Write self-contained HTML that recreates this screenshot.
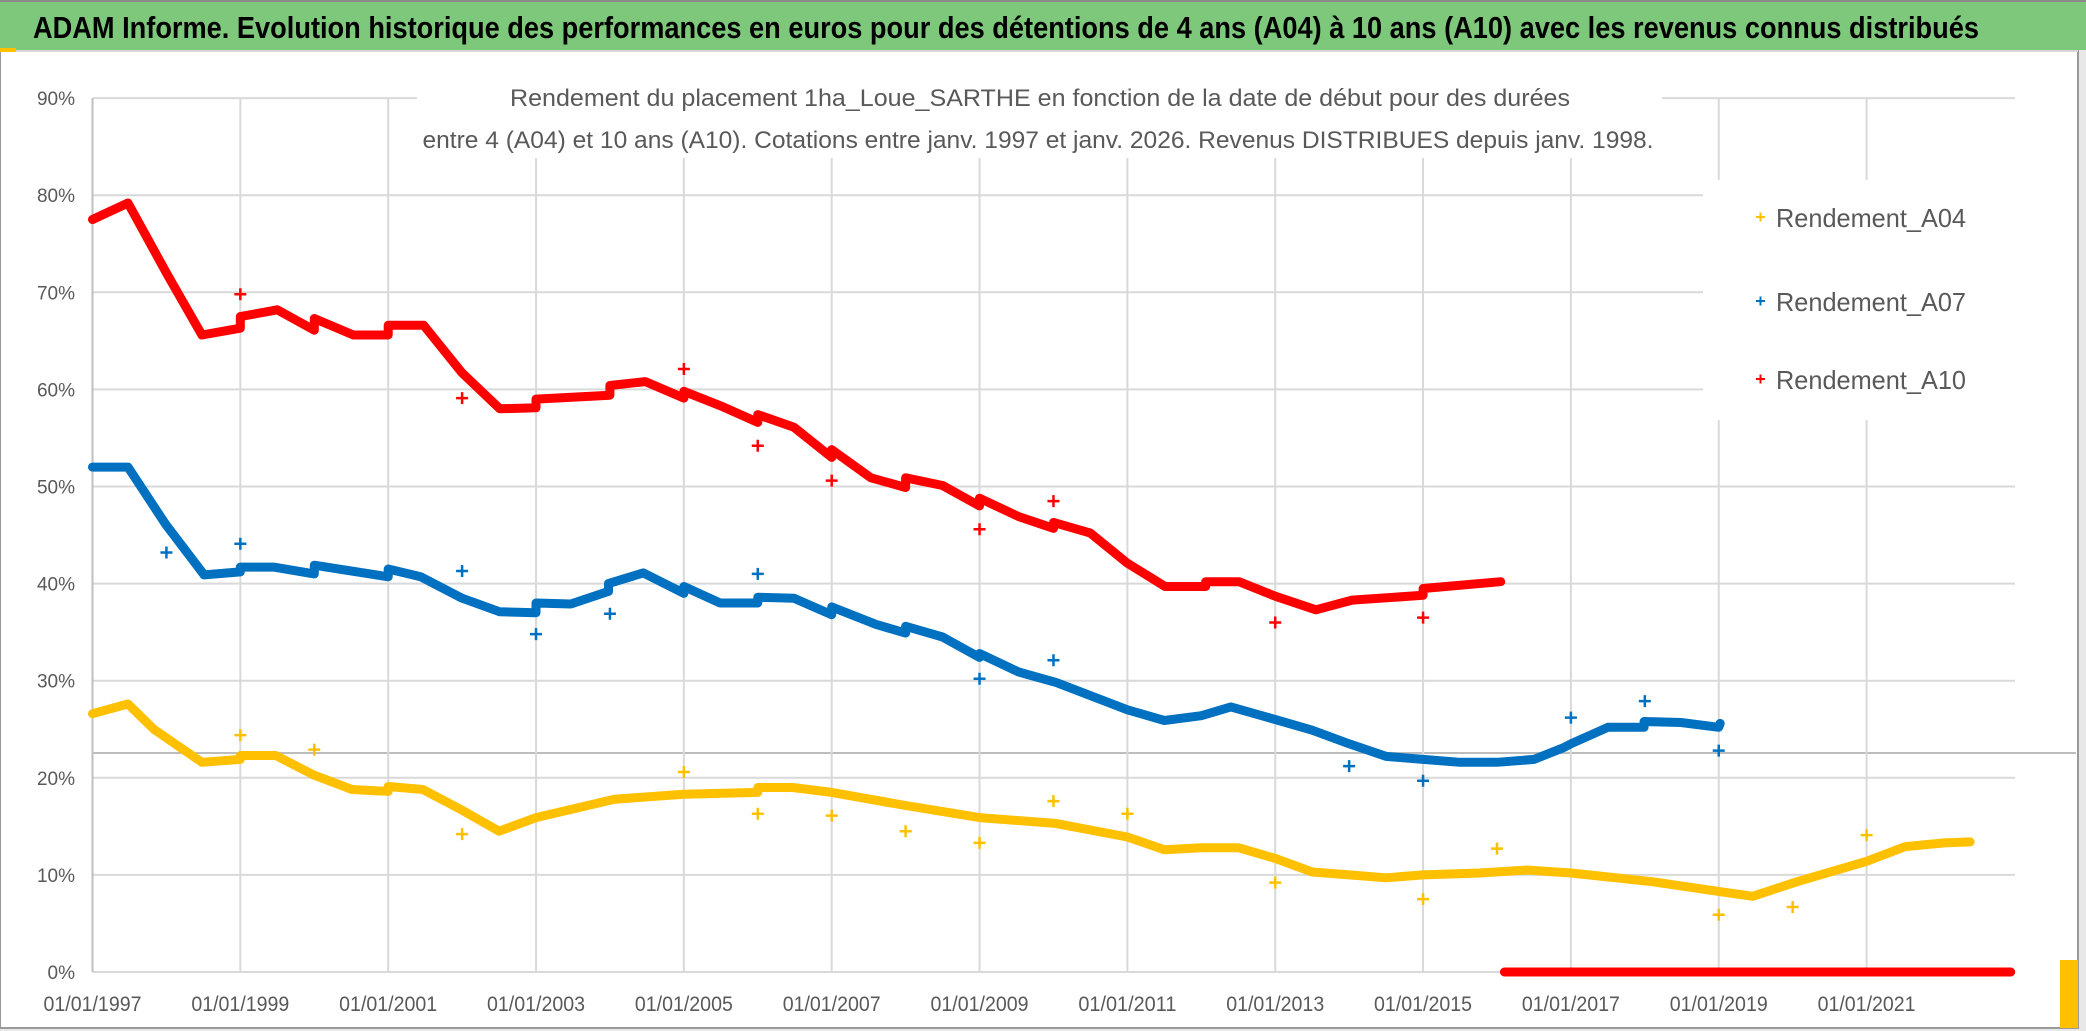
<!DOCTYPE html>
<html><head><meta charset="utf-8">
<style>
html,body{margin:0;padding:0;background:#fff;}
#wrap{position:relative;width:2086px;height:1031px;overflow:hidden;background:#e8e8e8;}
svg{position:absolute;left:0;top:0;}
text{font-family:"Liberation Sans",sans-serif;}
</style></head>
<body>
<div id="wrap">
<svg id="chart" width="2086" height="1031">
  <rect x="0" y="0" width="2078" height="1028" fill="#ffffff" stroke="#9a9a9a" stroke-width="2"/>
  <rect x="2060" y="960" width="18" height="68" fill="#ffc000"/>
  <rect x="0" y="0" width="2086" height="50" fill="#7ec87c"/>
  <line x1="0" y1="1" x2="2086" y2="1" stroke="#8a8a8a" stroke-width="2"/>
  <line x1="0" y1="51" x2="2078" y2="51" stroke="#d8d8d8" stroke-width="2"/>
  <rect x="0" y="48" width="16" height="4" fill="#ffc000"/>
  <text x="33" y="38" font-size="31" font-weight="bold" fill="#000" textLength="1946" lengthAdjust="spacingAndGlyphs">ADAM Informe. Evolution historique des performances en euros pour des détentions de 4 ans (A04) à 10 ans (A10) avec les revenus connus distribués</text>
  <g id="grid"></g>
  <rect x="417" y="60" width="1245" height="98" fill="#fff"/>
  <text x="1040" y="106" font-size="24" fill="#595959" text-anchor="middle" textLength="1060" lengthAdjust="spacingAndGlyphs">Rendement du placement 1ha_Loue_SARTHE en fonction de la date de début pour des durées</text>
  <text x="1038" y="148" font-size="24" fill="#595959" text-anchor="middle" textLength="1231" lengthAdjust="spacingAndGlyphs">entre 4 (A04) et 10 ans (A10). Cotations entre janv. 1997 et janv. 2026. Revenus DISTRIBUES depuis janv. 1998.</text>
  <g id="series"></g>
  <g id="axes"></g>
  <rect x="1703" y="180" width="312" height="240" fill="#fff"/>
  <g>
    <path d="M1756 217h9M1760.5 212.5v9" stroke="#ffc000" stroke-width="2"/>
    <text x="1776" y="227" font-size="26" fill="#595959" textLength="190" lengthAdjust="spacingAndGlyphs">Rendement_A04</text>
  </g>
  <g>
    <path d="M1756 301h9M1760.5 296.5v9" stroke="#0070c0" stroke-width="2"/>
    <text x="1776" y="311" font-size="26" fill="#595959" textLength="190" lengthAdjust="spacingAndGlyphs">Rendement_A07</text>
  </g>
  <g>
    <path d="M1756 379h9M1760.5 374.5v9" stroke="#ff0000" stroke-width="2"/>
    <text x="1776" y="389" font-size="26" fill="#595959" textLength="190" lengthAdjust="spacingAndGlyphs">Rendement_A10</text>
  </g>
</svg>
</div>
<script>
const yTicks = [0,10,20,30,40,50,60,70,80,90];
const xTickYears = [1997,1999,2001,2003,2005,2007,2009,2011,2013,2015,2017,2019,2021];
const xTickLabels = ["01/01/1997","01/01/1999","01/01/2001","01/01/2003","01/01/2005","01/01/2007","01/01/2009","01/01/2011","01/01/2013","01/01/2015","01/01/2017","01/01/2019","01/01/2021"];

const a10Years = [1997.0,1997.48,1998.0,1998.48,1999.0,1999.0,1999.5,2000.0,2000.0,2000.53,2001.0,2001.0,2001.48,2002.0,2002.51,2003.0,2003.0,2004.0,2004.0,2004.48,2005.0,2005.0,2005.5,2006.0,2006.0,2006.49,2007.0,2007.0,2007.53,2008.0,2008.0,2008.5,2009.0,2009.0,2009.53,2010.0,2010.0,2010.5,2011.0,2011.51,2012.06,2012.06,2012.51,2013.0,2013.55,2014.04,2015.0,2015.0,2016.05];
const a10Values = [77.5,79.2,72.0,65.6,66.3,67.5,68.2,66.1,67.3,65.6,65.6,66.6,66.6,61.7,58.0,58.1,59.0,59.4,60.4,60.8,59.1,59.8,58.3,56.6,57.4,56.1,53.0,53.8,50.9,49.9,50.9,50.1,48.0,48.8,46.9,45.7,46.3,45.2,42.1,39.7,39.7,40.2,40.2,38.7,37.3,38.3,38.8,39.5,40.2];
const a10ZeroYears = [2016.1,2022.95];
const a10ZeroValues = [0,0];

const a07Years = [1997.0,1997.48,1997.99,1998.51,1999.0,1999.0,1999.45,2000.0,2000.0,2001.0,2001.0,2001.44,2002.0,2002.51,2003.0,2003.0,2003.47,2003.98,2003.98,2004.45,2005.0,2005.0,2005.49,2006.0,2006.0,2006.49,2007.0,2007.0,2007.6,2008.0,2008.0,2008.5,2009.0,2009.0,2009.53,2010.04,2011.0,2011.5,2012.0,2012.4,2013.0,2013.5,2014.0,2014.5,2015.0,2015.5,2016.0,2016.5,2016.9,2017.0,2017.5,2017.99,2017.99,2018.49,2019.0,2019.02];
const a07Values = [52.0,52.0,46.1,40.9,41.2,41.7,41.7,41.0,41.9,40.7,41.5,40.7,38.5,37.1,37.0,38.0,37.9,39.2,40.0,41.1,39.0,39.7,38.0,38.0,38.6,38.5,36.8,37.6,35.8,34.9,35.6,34.5,32.4,32.8,30.9,29.8,27.0,25.9,26.4,27.3,26.0,24.9,23.5,22.2,21.9,21.6,21.6,21.9,23.1,23.5,25.2,25.2,25.8,25.7,25.2,25.6];

const a04Years = [1997.0,1997.48,1997.83,1998.48,1999.0,1999.0,1999.48,1999.99,2000.51,2001.0,2001.0,2001.47,2001.99,2002.5,2003.0,2004.06,2005.0,2006.0,2006.0,2006.47,2007.0,2007.96,2009.0,2010.03,2011.0,2011.5,2012.0,2012.5,2013.0,2013.5,2014.0,2014.5,2015.0,2015.77,2016.4,2017.0,2018.1,2019.0,2019.46,2020.06,2021.0,2021.52,2022.05,2022.4];
const a04Values = [26.6,27.6,25.0,21.6,21.9,22.3,22.3,20.3,18.8,18.6,19.1,18.8,16.7,14.5,15.9,17.8,18.3,18.5,19.0,19.0,18.5,17.2,15.9,15.3,13.9,12.6,12.8,12.8,11.7,10.3,10.0,9.7,10.0,10.2,10.5,10.2,9.3,8.3,7.8,9.3,11.4,12.9,13.3,13.4];

const a04OutYears = [1999,2000,2002,2005,2006,2007,2008,2009,2010,2011,2013,2015,2016,2019,2020,2021];
const a04OutValues = [24.4,22.9,14.2,20.6,16.3,16.1,14.5,13.3,17.6,16.3,9.2,7.5,12.7,5.9,6.7,14.1];
const a07OutYears = [1998,1999,2002,2003,2004,2006,2009,2010,2014,2015,2017,2018,2019];
const a07OutValues = [43.2,44.1,41.3,34.8,36.9,41.0,30.2,32.1,21.2,19.7,26.2,27.9,22.8];
const a10OutYears = [1999,2002,2005,2006,2007,2009,2010,2013,2015];
const a10OutValues = [69.8,59.1,62.1,54.2,50.6,45.6,48.5,36.0,36.5];

const NS = "http://www.w3.org/2000/svg";
const X0 = 92.5, PX_PER_YEAR = 73.92, XR = 2015;
const Y0 = 972, PX_PER_PCT = 9.71;
function xScale(yr){ return X0 + (yr - 1997) * PX_PER_YEAR; }
function yScale(p){ return Y0 - p * PX_PER_PCT; }
function mk(tag, attrs, parent){
  const e = document.createElementNS(NS, tag);
  for (const k in attrs) e.setAttribute(k, attrs[k]);
  parent.appendChild(e);
  return e;
}
const grid = document.getElementById('grid');
const axes = document.getElementById('axes');
const series = document.getElementById('series');

yTicks.forEach(t => {
  const y = yScale(t);
  const l = mk('line', {x1:X0, x2:XR, y1:y, y2:y, stroke:'#d9d9d9', 'stroke-width':2}, grid);
  
  
  const tx = mk('text', {x:75, y:y+7, 'font-size':19, fill:'#595959', 'text-anchor':'end'}, axes);
  tx.textContent = t + '%';
  
  
});
const ref = mk('line', {x1:X0, x2:2076, y1:yScale(22.55), y2:yScale(22.55), stroke:'#bdbdbd', 'stroke-width':2}, grid);



xTickYears.forEach((yr, i) => {
  const x = xScale(yr);
  const l = mk('line', {x1:x, x2:x, y1:yScale(90), y2:Y0, stroke: i===0 ? '#bfbfbf' : '#d9d9d9', 'stroke-width':2}, grid);
  
  
  const tx = mk('text', {x:x, y:1011, 'font-size':21, fill:'#595959', 'text-anchor':'middle', textLength:98, lengthAdjust:'spacingAndGlyphs'}, axes);
  tx.textContent = xTickLabels[i];
  
  
});

function band(years, vals, color, name){
  const pts = years.map((yr, i) => xScale(yr).toFixed(1) + ',' + yScale(vals[i]).toFixed(1)).join(' ');
  const p = mk('polyline', {points:pts, fill:'none', stroke:color, 'stroke-width':9, 'stroke-linejoin':'round', 'stroke-linecap':'round'}, series);
  
  
}
function crosses(years, vals, color, name){
  const g = mk('g', {}, series);
  
  
  years.forEach((yr, i) => {
    const x = xScale(yr), y = yScale(vals[i]);
    const p = mk('path', {d:`M${x-6} ${y}h12M${x} ${y-6}v12`, stroke:color, 'stroke-width':2.5}, g);
    
    
  });
}
band(a04Years, a04Values, '#ffc000', 'series-a04');
band(a07Years, a07Values, '#0070c0', 'series-a07');
band(a10Years, a10Values, '#ff0000', 'series-a10');
band(a10ZeroYears, a10ZeroValues, '#ff0000', 'series-a10-zero');
crosses(a04OutYears, a04OutValues, '#ffc000', 'outliers-a04');
crosses(a07OutYears, a07OutValues, '#0070c0', 'outliers-a07');
crosses(a10OutYears, a10OutValues, '#ff0000', 'outliers-a10');
</script>
</body></html>
